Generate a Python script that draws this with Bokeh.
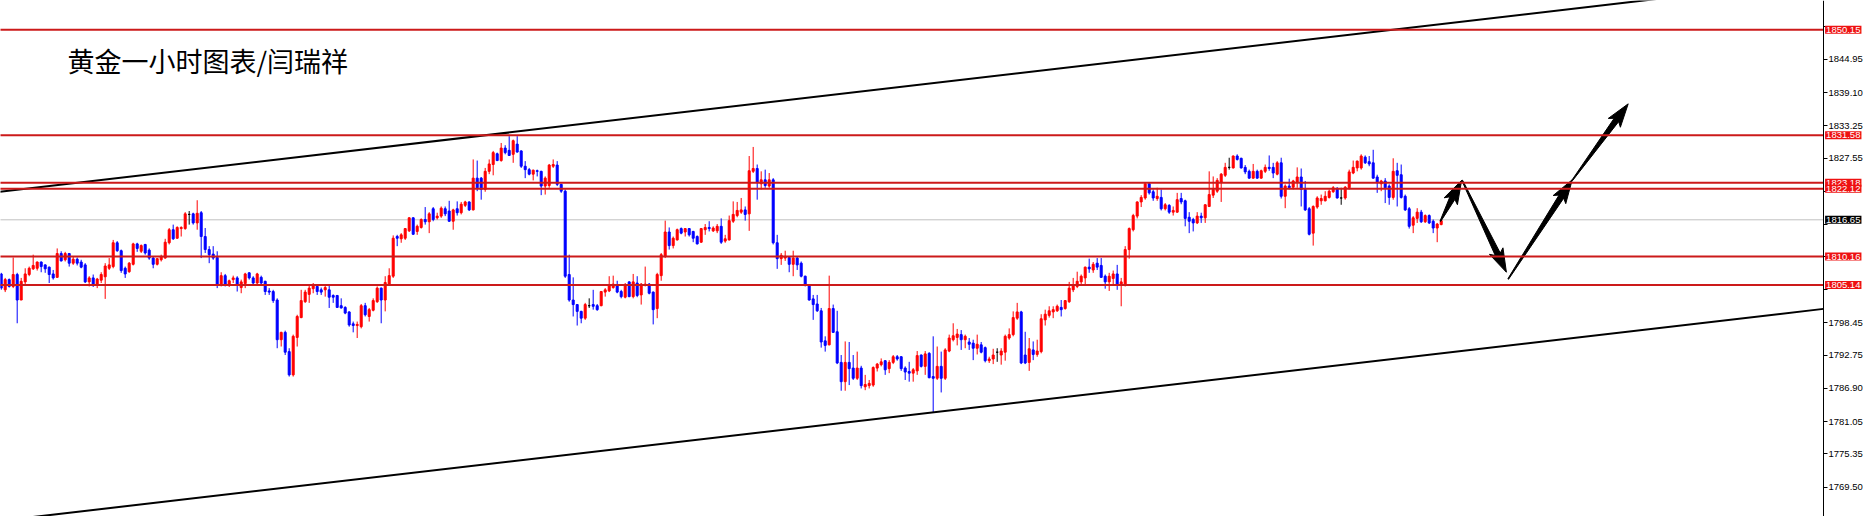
from bokeh.plotting import figure
from bokeh.models import Label, FixedTicker
from bokeh.embed import file_html
from bokeh.resources import INLINE
import numpy as np

# ---------------- data (XAUUSD H1 candles) ----------------
opens = [
1807.1,1804.3,1806.1,1804.9,1807.0,1802.5,1805.7,1807.0,1808.0,1808.1,
1809.2,1808.7,1808.3,1807.1,1806.5,1810.7,1809.6,1810.7,1809.0,1809.7,
1809.2,1808.7,1805.7,1806.4,1805.2,1806.0,1806.6,1808.1,1808.4,1812.6,
1811.2,1808.1,1807.5,1808.8,1812.4,1811.1,1812.3,1811.3,1809.9,1808.8,
1809.6,1809.9,1812.6,1814.9,1813.4,1815.1,1815.1,1817.6,1817.7,1816.1,
1817.9,1813.7,1811.4,1810.6,1810.0,1805.2,1806.8,1805.1,1806.1,1806.4,
1804.7,1805.4,1807.3,1806.4,1805.5,1806.5,1805.8,1804.1,1804.0,1802.5,
1795.5,1796.8,1793.4,1789.3,1795.9,1799.4,1802.2,1803.5,1804.5,1804.9,
1804.3,1804.3,1804.3,1803.3,1803.3,1801.5,1801.2,1800.4,1798.3,1798.0,
1797.8,1801.5,1799.6,1800.7,1802.2,1804.6,1802.5,1805.2,1806.7,1813.7,
1813.3,1813.4,1814.7,1817.0,1814.6,1815.3,1816.7,1816.3,1818.6,1817.0,
1817.3,1818.6,1818.2,1816.4,1818.6,1817.9,1819.2,1819.8,1818.4,1824.0,
1824.0,1822.0,1825.2,1826.4,1828.3,1827.1,1829.3,1828.9,1828.2,1830.0,
1828.8,1826.1,1825.5,1824.7,1825.3,1825.2,1822.6,1822.7,1826.1,1826.3,
1822.9,1821.7,1807.0,1802.5,1801.7,1800.5,1799.3,1801.5,1801.7,1801.5,
1801.5,1803.9,1804.1,1804.7,1805.1,1804.0,1803.0,1805.7,1803.1,1805.5,
1803.4,1805.1,1805.3,1803.9,1801.0,1806.8,1810.2,1814.5,1812.1,1813.1,
1815.1,1814.5,1815.1,1814.6,1813.7,1812.7,1814.9,1815.3,1814.7,1814.7,
1815.5,1812.9,1813.1,1816.4,1817.4,1818.0,1818.4,1817.7,1825.2,1825.7,
1823.0,1823.7,1822.6,1823.7,1812.6,1809.8,1809.9,1810.0,1808.8,1809.9,
1809.0,1806.7,1805.2,1802.7,1801.8,1800.6,1795.3,1794.6,1801.0,1796.9,
1791.5,1788.1,1791.5,1790.5,1788.7,1790.5,1787.2,1787.4,1787.5,1790.5,
1791.1,1791.8,1790.4,1791.5,1792.5,1792.5,1790.5,1789.9,1789.6,1790.0,
1792.8,1790.8,1793.1,1789.0,1788.7,1790.8,1788.7,1793.5,1795.5,1795.9,
1796.4,1795.5,1795.1,1794.9,1794.0,1794.6,1794.1,1791.8,1792.1,1793.3,
1792.8,1793.3,1795.8,1796.4,1799.3,1800.4,1792.8,1791.5,1793.7,1792.9,
1793.4,1799.0,1799.8,1800.4,1800.6,1801.2,1801.0,1802.2,1804.3,1804.9,
1805.7,1806.4,1808.3,1807.8,1809.0,1808.6,1806.7,1805.7,1806.3,1807.1,
1805.2,1805.2,1811.4,1814.9,1817.3,1819.8,1820.5,1823.0,1821.6,1820.4,
1820.6,1818.6,1819.2,1818.0,1818.0,1820.4,1820.0,1817.1,1816.7,1816.1,
1817.3,1817.0,1819.0,1821.0,1821.7,1823.3,1824.5,1825.9,1825.8,1827.9,
1827.5,1825.9,1825.2,1824.0,1825.2,1824.0,1825.2,1825.9,1825.9,1824.7,
1826.7,1820.8,1822.6,1822.4,1823.3,1824.2,1822.0,1818.6,1814.3,1818.9,
1820.0,1820.0,1820.6,1821.6,1822.2,1820.5,1820.5,1822.3,1824.9,1825.8,
1825.8,1827.7,1826.9,1826.7,1824.2,1823.0,1823.5,1822.6,1820.6,1825.3,
1824.6,1820.8,1818.6,1815.7,1816.9,1818.0,1816.3,1817.4,1816.4,1815.2,
1815.8]
highs = [
1807.3,1806.4,1806.3,1810.0,1807.3,1806.4,1808.1,1808.4,1810.5,1809.3,
1809.3,1808.8,1808.4,1807.8,1811.6,1811.1,1811.0,1810.8,1810.2,1810.0,
1809.6,1809.0,1806.7,1807.0,1806.4,1807.4,1809.0,1809.9,1813.1,1812.9,
1811.4,1808.4,1809.2,1812.6,1812.6,1812.3,1812.4,1811.6,1810.2,1809.9,
1810.5,1813.3,1815.2,1815.8,1815.5,1815.5,1818.0,1818.2,1817.9,1820.1,
1818.2,1815.2,1812.0,1812.0,1811.1,1807.4,1807.1,1806.1,1806.8,1806.7,
1806.1,1807.3,1807.4,1806.7,1807.3,1806.8,1805.9,1804.6,1804.3,1802.8,
1796.9,1797.1,1794.0,1796.4,1799.9,1804.3,1804.3,1805.2,1805.5,1805.2,
1804.7,1805.2,1805.2,1803.5,1803.4,1802.8,1801.4,1800.5,1798.7,1798.7,
1801.8,1802.0,1801.1,1802.8,1804.9,1804.7,1806.7,1808.1,1813.9,1814.0,
1814.3,1815.2,1817.1,1817.1,1815.8,1816.9,1818.9,1818.0,1818.9,1817.9,
1819.0,1819.0,1820.0,1818.6,1819.9,1819.8,1820.0,1819.9,1827.3,1827.1,
1824.2,1825.8,1827.3,1828.8,1828.5,1830.2,1829.8,1831.4,1830.8,1831.4,
1828.9,1827.0,1825.8,1825.5,1825.5,1825.3,1824.3,1826.5,1827.3,1827.0,
1823.0,1822.0,1810.5,1806.5,1801.8,1800.6,1802.0,1802.8,1804.3,1801.8,
1804.1,1804.6,1806.7,1806.8,1805.9,1804.3,1805.5,1805.8,1807.1,1806.7,
1805.5,1808.4,1805.5,1804.0,1807.3,1810.8,1816.5,1815.3,1813.7,1815.1,
1815.3,1815.2,1815.2,1814.7,1813.9,1815.2,1815.9,1816.4,1815.5,1815.9,
1816.9,1814.0,1817.4,1819.9,1819.8,1820.5,1819.0,1827.9,1829.5,1826.4,
1825.2,1825.5,1824.9,1824.0,1814.0,1810.8,1811.2,1810.2,1811.2,1810.2,
1809.3,1806.8,1805.3,1803.4,1803.4,1801.1,1796.1,1806.8,1801.7,1800.6,
1792.8,1795.2,1795.1,1792.8,1793.4,1790.9,1789.3,1788.4,1790.8,1791.4,
1792.2,1791.9,1791.9,1792.8,1792.8,1792.6,1790.8,1791.6,1790.5,1793.5,
1792.9,1793.5,1793.3,1796.1,1794.3,1793.4,1794.0,1796.4,1798.4,1797.4,
1797.2,1796.4,1795.8,1795.5,1796.4,1795.1,1794.3,1792.5,1793.9,1794.0,
1794.0,1796.4,1797.5,1800.5,1802.0,1800.6,1796.9,1795.8,1795.2,1795.5,
1800.0,1800.8,1801.4,1801.4,1801.7,1802.5,1802.5,1805.7,1806.4,1807.5,
1807.0,1808.4,1809.8,1809.2,1809.9,1809.9,1807.0,1807.3,1807.7,1808.7,
1806.4,1812.0,1815.3,1817.7,1819.9,1821.0,1823.3,1823.2,1822.0,1822.3,
1822.0,1819.6,1819.4,1819.0,1821.4,1821.4,1820.2,1818.0,1817.0,1818.0,
1817.9,1819.4,1825.2,1824.3,1824.0,1824.9,1826.7,1827.6,1828.0,1828.2,
1827.6,1826.3,1825.5,1826.5,1825.5,1825.5,1826.4,1828.0,1826.7,1827.0,
1827.6,1822.9,1823.9,1823.7,1825.9,1825.7,1823.5,1818.9,1819.2,1820.8,
1821.1,1821.7,1822.0,1822.6,1822.4,1822.3,1822.6,1825.5,1827.1,1827.1,
1828.2,1828.0,1827.9,1829.0,1824.6,1823.7,1824.0,1822.9,1827.5,1826.7,
1826.4,1821.1,1818.9,1817.3,1818.7,1818.4,1817.6,1817.6,1816.7,1816.1,
1816.7]
lows = [
1804.3,1803.9,1804.7,1804.6,1798.4,1802.5,1805.2,1806.7,1807.8,1807.7,
1807.4,1807.3,1805.5,1806.1,1806.4,1809.3,1809.3,1808.4,1808.7,1808.6,
1808.1,1805.5,1804.9,1804.8,1804.6,1805.5,1802.7,1807.8,1808.1,1811.0,
1807.3,1806.4,1807.3,1808.6,1811.0,1810.8,1810.5,1809.6,1808.1,1808.6,
1809.3,1809.8,1812.3,1813.1,1813.3,1813.7,1814.9,1815.8,1815.8,1814.9,
1809.9,1810.8,1809.0,1809.6,1804.6,1804.9,1804.9,1804.8,1805.5,1804.0,
1803.7,1804.6,1806.1,1805.3,1805.3,1805.3,1803.4,1803.4,1802.0,1794.0,
1794.3,1792.8,1789.0,1789.0,1794.3,1799.3,1802.0,1802.0,1803.7,1803.4,
1803.4,1803.1,1801.1,1802.0,1801.1,1801.0,1800.0,1797.8,1796.8,1795.8,
1797.5,1799.6,1798.7,1800.5,1802.0,1798.4,1800.5,1805.1,1806.4,1812.0,
1812.6,1813.1,1814.5,1814.0,1814.0,1815.1,1815.8,1814.3,1816.4,1816.7,
1817.0,1817.3,1816.3,1814.9,1817.4,1817.6,1818.9,1818.2,1818.3,1821.7,
1820.2,1821.6,1824.7,1824.5,1827.0,1826.9,1828.2,1827.9,1826.7,1828.5,
1825.8,1824.0,1824.5,1823.6,1824.3,1821.0,1821.1,1822.3,1825.8,1822.6,
1821.4,1806.4,1802.2,1799.6,1798.0,1798.4,1799.0,1801.1,1800.8,1800.6,
1801.4,1803.1,1803.9,1804.5,1803.7,1802.8,1802.8,1803.0,1802.8,1803.0,
1801.7,1804.9,1803.5,1798.2,1799.3,1805.9,1809.9,1811.4,1811.6,1813.0,
1814.1,1813.7,1813.7,1812.7,1812.3,1812.6,1814.0,1814.6,1814.5,1814.3,
1812.4,1812.6,1813.0,1816.1,1817.1,1817.7,1816.5,1814.7,1824.9,1820.2,
1822.0,1822.3,1822.3,1812.3,1808.0,1808.7,1809.4,1807.4,1806.7,1807.8,
1806.5,1804.9,1802.4,1799.0,1800.4,1794.1,1793.4,1794.5,1796.7,1791.2,
1786.5,1786.5,1787.5,1788.4,1788.4,1786.9,1786.6,1786.9,1787.2,1789.9,
1790.8,1789.3,1789.6,1791.2,1791.8,1790.0,1788.4,1788.1,1788.1,1789.3,
1790.6,1789.3,1788.7,1782.7,1788.4,1786.2,1788.4,1793.3,1795.2,1794.5,
1793.7,1794.0,1793.7,1791.9,1792.9,1793.1,1791.5,1791.4,1791.2,1791.6,
1791.1,1791.8,1795.5,1796.1,1799.0,1791.2,1791.2,1790.0,1791.9,1792.5,
1793.1,1798.0,1799.4,1799.3,1800.4,1799.6,1800.8,1802.0,1803.9,1804.6,
1805.1,1805.1,1807.3,1807.3,1807.8,1806.4,1804.5,1804.1,1805.1,1804.3,
1801.4,1804.9,1809.8,1814.6,1816.9,1818.9,1820.2,1821.1,1820.0,1820.0,
1818.3,1818.3,1817.7,1817.4,1817.9,1819.4,1815.5,1814.3,1814.6,1815.9,
1816.1,1816.1,1818.9,1820.5,1821.4,1819.8,1824.2,1825.5,1825.7,1827.1,
1825.7,1824.7,1823.9,1823.9,1823.9,1823.9,1824.9,1825.3,1824.0,1824.5,
1820.4,1818.7,1822.0,1822.0,1822.3,1819.0,1818.2,1813.9,1812.1,1818.6,
1819.3,1819.9,1820.4,1821.4,1820.4,1819.3,1820.2,1822.0,1824.7,1825.2,
1825.5,1826.5,1826.1,1823.9,1821.4,1821.7,1819.6,1819.3,1820.2,1819.0,
1820.4,1818.2,1815.1,1814.3,1816.1,1816.1,1816.1,1815.9,1814.3,1812.7,
1815.7]
closes = [
1804.6,1806.1,1804.9,1807.0,1802.5,1805.8,1807.1,1808.1,1808.6,1809.2,
1808.4,1808.0,1807.0,1806.4,1810.7,1809.4,1810.7,1809.0,1809.7,1809.0,
1808.3,1805.7,1806.4,1805.2,1806.2,1807.0,1808.5,1808.7,1812.6,1811.2,
1807.7,1807.1,1809.0,1812.4,1811.6,1812.1,1810.8,1809.9,1808.8,1809.8,
1810.2,1812.7,1814.9,1813.3,1815.3,1815.3,1817.7,1817.6,1816.1,1817.8,
1813.7,1811.4,1810.5,1809.9,1805.2,1806.8,1805.3,1805.9,1806.4,1805.2,
1805.7,1807.1,1806.4,1805.5,1807.1,1805.5,1804.0,1803.9,1802.4,1795.5,
1796.8,1793.3,1789.3,1796.1,1799.6,1802.4,1803.9,1804.6,1805.1,1804.0,
1803.9,1804.7,1803.0,1803.0,1801.2,1801.1,1800.2,1798.1,1798.0,1798.2,
1801.5,1799.9,1800.8,1802.4,1804.6,1802.5,1805.6,1806.8,1813.4,1813.4,
1814.0,1815.1,1817.0,1814.1,1815.5,1816.7,1816.3,1817.7,1816.7,1817.3,
1818.7,1817.7,1816.4,1818.4,1817.9,1819.4,1819.8,1818.4,1824.0,1822.3,
1822.0,1825.2,1826.5,1828.5,1827.1,1829.3,1828.5,1828.0,1830.6,1828.6,
1826.1,1825.5,1824.7,1825.4,1825.2,1822.6,1824.0,1826.3,1826.4,1822.9,
1821.7,1806.7,1802.5,1801.7,1800.5,1799.3,1801.7,1801.5,1801.4,1800.8,
1804.0,1804.3,1805.1,1805.3,1803.9,1803.1,1805.1,1803.1,1805.7,1803.3,
1805.3,1805.3,1803.7,1800.8,1807.0,1810.5,1814.5,1812.1,1813.4,1814.9,
1814.3,1815.1,1814.0,1813.4,1812.4,1815.1,1815.3,1815.1,1815.2,1815.5,
1812.7,1813.3,1816.5,1817.6,1818.3,1818.4,1817.6,1825.3,1825.7,1823.2,
1823.7,1822.7,1823.7,1812.6,1809.8,1810.4,1810.2,1808.8,1809.9,1808.7,
1806.7,1805.2,1802.5,1801.7,1800.6,1795.1,1794.5,1801.0,1796.8,1791.4,
1788.1,1791.5,1790.4,1788.7,1790.5,1787.4,1787.6,1787.8,1790.6,1791.2,
1791.6,1790.2,1791.5,1792.5,1792.1,1790.4,1789.8,1789.6,1790.2,1792.7,
1790.8,1793.0,1788.8,1788.7,1790.8,1788.7,1793.7,1795.8,1796.2,1796.5,
1795.5,1796.1,1794.7,1794.0,1794.7,1793.3,1791.8,1792.1,1792.8,1793.3,
1793.5,1796.1,1796.4,1799.4,1800.4,1791.4,1791.4,1793.9,1792.9,1793.5,
1799.2,1800.0,1800.6,1800.8,1801.4,1800.8,1802.4,1804.6,1805.2,1805.8,
1806.7,1808.3,1808.0,1808.8,1808.3,1806.5,1805.7,1806.7,1807.1,1805.2,
1805.7,1811.4,1815.1,1817.4,1819.8,1820.6,1823.0,1821.4,1820.5,1820.8,
1818.6,1819.3,1818.0,1818.3,1820.2,1819.8,1816.9,1816.4,1816.1,1817.3,
1817.0,1819.3,1821.1,1822.0,1823.6,1824.7,1825.9,1825.9,1827.9,1827.3,
1825.8,1825.1,1824.0,1825.2,1824.0,1825.3,1825.9,1825.7,1824.9,1826.7,
1820.8,1822.6,1822.3,1823.5,1824.2,1822.0,1818.4,1814.1,1819.0,1820.5,
1820.4,1820.8,1821.7,1822.3,1820.5,1820.5,1822.4,1825.1,1825.9,1827.0,
1827.9,1826.7,1826.5,1824.0,1823.2,1823.5,1822.3,1820.6,1825.2,1824.5,
1820.6,1818.4,1815.5,1817.0,1818.0,1816.3,1817.4,1816.1,1815.2,1815.9,
1816.5]

# horizontal levels (red lines) and their axis tags
level_prices = [1850.15, 1831.58, 1823.18, 1822.12, 1810.16, 1805.14]
level_labels = ["1850.15", "1831.58", "1823.18", "1822.12", "1810.16", "1805.14"]
bid_price = 1816.65
bid_label = "1816.65"

# price scale ticks
tick_values = [1769.50, 1775.35, 1781.05, 1786.90, 1792.75, 1798.45, 1804.30,
               1810.15, 1815.85, 1821.70, 1827.55, 1833.25, 1839.10, 1844.95, 1850.80]
tick_labels = ["1769.50", "1775.35", "1781.05", "1786.90", "1792.75", "1798.45", "",
               "", "", "", "1827.55", "1833.25", "1839.10", "1844.95", ""]

# price-scale position (bar index) and chart start
axis_x = 456.575
chart_x0 = 0.0

# channel trend lines (bar index, price)
upper_x = [0.0, 460.0]
upper_y = [1821.55, 1859.3]
lower_x = [0.0, 456.575]
lower_y = [1763.5, 1800.94]

# forecast arrows (bar index / price of start and tip)
arrow_x0 = [360.8, 366.25, 377.75, 393.75]
arrow_y0 = [1816.4, 1823.6, 1806.2, 1823.6]
arrow_x1 = [366.1, 377.3, 393.75, 407.75]
arrow_y1 = [1823.6, 1807.4, 1823.7, 1837.1]

title_text = "黄金一小时图表/闫瑞祥"

# ---------------- figure ----------------
W, H = 1865, 516
X0, X1 = 0.825, 467.075
Y0, Y1 = 1764.32, 1855.33

p = figure(width=W, height=H, x_range=(X0, X1), y_range=(Y0, Y1),
           output_backend="svg", toolbar_location=None,
           y_axis_location="right", x_axis_location=None,
           min_border=0,
           background_fill_color="white", border_fill_color="white",
           outline_line_color=None)
p.grid.visible = False

ax = p.yaxis[0]
ax.fixed_location = axis_x
ax.ticker = FixedTicker(ticks=tick_values)
ax.major_label_overrides = {t: l for t, l in zip(tick_values, tick_labels)}
ax.axis_line_color = "black"
ax.axis_line_width = 1
ax.major_tick_line_color = "black"
ax.major_tick_out = 4
ax.major_tick_in = 0
ax.minor_tick_line_color = None
ax.major_label_text_font = "Liberation Sans"
ax.major_label_text_font_size = "9.5px"
ax.major_label_text_color = "black"
ax.major_label_standoff = 1

# bid line (behind candles)
p.segment(x0=[chart_x0], y0=[bid_price], x1=[axis_x], y1=[bid_price],
          line_color="#C0C0C0", line_width=1)

# candles
idx = np.arange(1, len(opens) + 1)
o = np.array(opens); h = np.array(highs); l = np.array(lows); c = np.array(closes)
colors = np.where(c > o, "#FF0000", np.where(c < o, "#0000FF", "#000000"))
p.segment(x0=idx, y0=l, x1=idx, y1=h, color=list(colors), line_width=1)
p.vbar(x=idx, width=0.5, top=np.maximum(o, c), bottom=np.minimum(o, c),
       fill_color=list(colors), line_color=list(colors), line_width=1)

# channel lines
p.line(upper_x, upper_y, line_color="black", line_width=2)
p.line(lower_x, lower_y, line_color="black", line_width=2)

# arrows as tapered polygons (built in pixel space, mapped back to data)
kx = W / (X1 - X0)
ky = H / (Y1 - Y0)
xs_list, ys_list = [], []
for xa, ya, xb, yb in zip(arrow_x0, arrow_y0, arrow_x1, arrow_y1):
    A = np.array([xa * kx, ya * ky]); B = np.array([xb * kx, yb * ky])
    d = B - A; L = np.hypot(*d); u = d / L; n = np.array([-u[1], u[0]])
    hl, hw, sw, s0 = 20.0, 7.5, 2.8, 0.4
    base = B - u * hl
    wing = base - u * 3.5
    pts = [A + n * s0, base + n * sw, wing + n * hw, B, wing - n * hw, base - n * sw, A - n * s0]
    xs_list.append([pt[0] / kx for pt in pts])
    ys_list.append([pt[1] / ky for pt in pts])
p.patches(xs_list, ys_list, fill_color="black", line_color="black", line_width=1)

# red level lines (end at the price scale)
n_lv = len(level_prices)
p.segment(x0=[chart_x0] * n_lv, y0=level_prices, x1=[axis_x] * n_lv, y1=level_prices,
          line_color="#CC1A1A", line_width=2)

# price tags on the scale
tag_x = axis_x + 0.4
for lv, txt in zip(level_prices, level_labels):
    p.add_layout(Label(x=tag_x, y=lv, x_units="data", y_units="data", text=txt,
                       text_color="white", text_font="Liberation Sans",
                       text_font_size="9.5px", text_baseline="middle", text_align="left",
                       background_fill_color="#EE1111", padding=1))
p.add_layout(Label(x=tag_x, y=bid_price, x_units="data", y_units="data", text=bid_label,
                   text_color="white", text_font="Liberation Sans",
                   text_font_size="9.5px", text_baseline="middle", text_align="left",
                   background_fill_color="black", padding=1))

# title
p.add_layout(Label(x=67, y=H - 60.3, x_units="screen", y_units="screen", text=title_text,
                   text_color="black", text_font="Noto Sans CJK SC",
                   text_font_size="27px", text_baseline="alphabetic", text_align="left"))

open("out.html", "w").write(file_html(p, INLINE))
